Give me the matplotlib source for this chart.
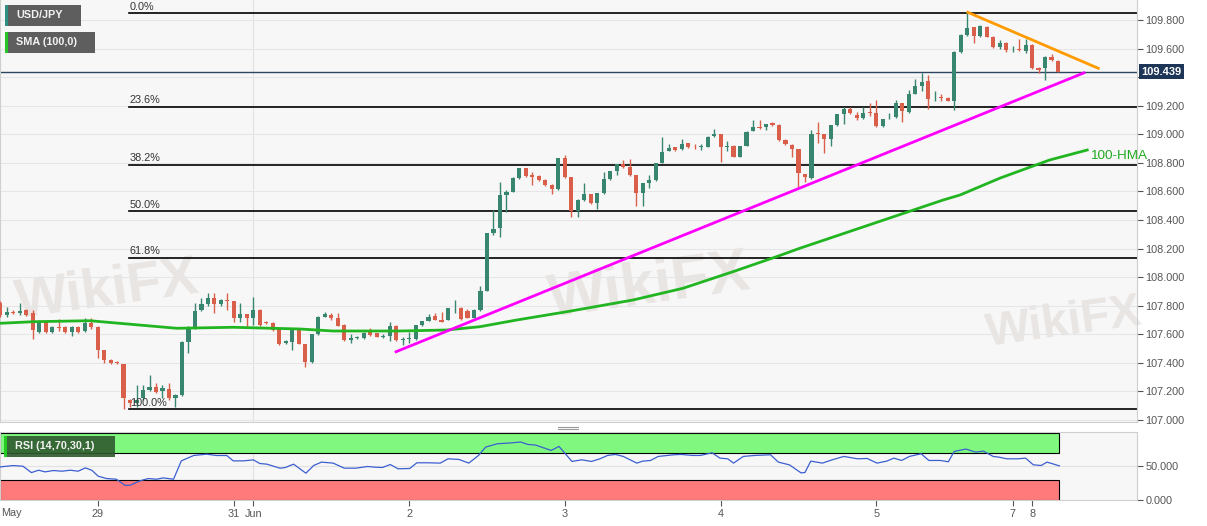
import numpy as np
import matplotlib.pyplot as plt
import matplotlib.transforms as mtransforms
from matplotlib.patches import Rectangle
from matplotlib.lines import Line2D

plt.rcParams['font.family'] = ['Liberation Sans', 'DejaVu Sans']

## USD/JPY hourly bars, index 0 = 29 May 00:00 (weekend gap removed)
first_bar = -15
bar_open = [107.820, 107.735, 107.758, 107.750, 107.770, 107.747, 107.618, 107.688, 107.618, 107.653,
            107.653, 107.618, 107.653, 107.621, 107.681,
            # 29 May
            107.649, 107.490, 107.420, 107.408, 107.392, 107.140, 107.121, 107.152, 107.210, 107.233,
            107.205, 107.215, 107.152, 107.175, 107.548, 107.653, 107.770, 107.810, 107.852, 107.810,
            107.840,
            # 31 May / 1 Jun
            107.830, 107.712, 107.740, 107.712, 107.770, 107.688, 107.681, 107.635, 107.537, 107.548,
            107.630, 107.532, 107.408, 107.600, 107.723, 107.735, 107.712, 107.665, 107.560, 107.572,
            107.576, 107.618, 107.607, 107.583, 107.590, 107.658, 107.562,
            # 2 Jun
            107.566, 107.565, 107.665, 107.693, 107.728, 107.700, 107.700, 107.782, 107.786, 107.760,
            107.716, 107.770, 107.905, 108.307, 108.342, 108.575, 108.598, 108.692, 108.762, 108.715,
            108.708, 108.680, 108.645, 108.617,
            # 3 Jun
            108.832, 108.699, 108.463, 108.540, 108.580, 108.517, 108.587, 108.685, 108.743, 108.790,
            108.769, 108.715, 108.587, 108.657, 108.680, 108.801, 108.883, 108.909, 108.895, 108.937,
            108.913, 108.909, 108.913, 108.988,
            # 4 Jun
            109.000, 108.909, 108.918, 108.843, 108.918, 109.025, 109.049, 109.049, 109.077, 109.065,
            108.960, 108.925, 108.895, 108.722, 108.692, 109.011, 109.002, 108.967, 109.065, 109.140,
            109.175, 109.135, 109.116, 109.158,
            # 5 Jun
            109.147, 109.058, 109.112, 109.120, 109.217, 109.158, 109.285, 109.338, 109.375, 109.260,
            109.259, 109.252, 109.235, 109.578, 109.695, 109.749, 109.688, 109.753, 109.683, 109.609,
            109.641,
            # 7 / 8 Jun
            109.595, 109.600, 109.585, 109.625, 109.462, 109.462, 109.543, 109.515]

bar_high = [107.835, 107.790, 107.770, 107.820, 107.780, 107.770, 107.700, 107.690, 107.660, 107.710,
            107.660, 107.655, 107.660, 107.712, 107.712,
            107.655, 107.490, 107.425, 107.410, 107.395, 107.150, 107.245, 107.245, 107.315, 107.257,
            107.245, 107.257, 107.180, 107.550, 107.660, 107.817, 107.852, 107.891, 107.891, 107.845,
            107.891,
            107.835, 107.817, 107.745, 107.858, 107.775, 107.690, 107.685, 107.640, 107.560, 107.635,
            107.635, 107.535, 107.605, 107.725, 107.758, 107.747, 107.747, 107.670, 107.600, 107.585,
            107.615, 107.642, 107.610, 107.600, 107.688, 107.665, 107.580,
            107.618, 107.668, 107.695, 107.740, 107.747, 107.758, 107.785, 107.840, 107.790, 107.775,
            107.775, 107.940, 108.310, 108.470, 108.668, 108.610, 108.700, 108.765, 108.765, 108.738,
            108.712, 108.685, 108.650, 108.835,
            108.855, 108.703, 108.545, 108.661, 108.585, 108.590, 108.738, 108.745, 108.795, 108.820,
            108.825, 108.718, 108.660, 108.715, 108.800, 108.983, 108.932, 108.912, 108.965, 108.940,
            108.930, 108.932, 108.985, 109.035,
            109.003, 108.950, 108.922, 108.920, 109.020, 109.100, 109.100, 109.070, 109.085, 109.070,
            108.965, 108.930, 108.900, 108.725, 109.030, 109.088, 109.005, 109.068, 109.142, 109.193,
            109.193, 109.158, 109.193, 109.216,
            109.240, 109.108, 109.147, 109.240, 109.222, 109.310, 109.385, 109.427, 109.415, 109.300,
            109.285, 109.260, 109.580, 109.700, 109.854, 109.752, 109.762, 109.758, 109.688, 109.660,
            109.645,
            109.615, 109.665, 109.665, 109.630, 109.470, 109.545, 109.560, 109.520]

bar_low = [107.720, 107.720, 107.740, 107.735, 107.730, 107.570, 107.610, 107.610, 107.610, 107.620,
           107.610, 107.590, 107.610, 107.615, 107.640,
           107.432, 107.400, 107.395, 107.390, 107.080, 107.093, 107.090, 107.140, 107.200, 107.190,
           107.152, 107.140, 107.093, 107.170, 107.467, 107.640, 107.760, 107.800, 107.750, 107.800,
           107.770,
           107.688, 107.688, 107.642, 107.665, 107.660, 107.670, 107.625, 107.525, 107.530, 107.490,
           107.530, 107.373, 107.400, 107.595, 107.720, 107.700, 107.655, 107.555, 107.537, 107.570,
           107.570, 107.590, 107.580, 107.575, 107.555, 107.555, 107.525,
           107.537, 107.560, 107.660, 107.690, 107.698, 107.685, 107.698, 107.750, 107.700, 107.712,
           107.712, 107.765, 107.900, 108.295, 108.283, 108.458, 108.595, 108.690, 108.700, 108.645,
           108.675, 108.640, 108.582, 108.612,
           108.695, 108.423, 108.423, 108.535, 108.512, 108.475, 108.585, 108.680, 108.715, 108.765,
           108.710, 108.498, 108.498, 108.625, 108.675, 108.798, 108.880, 108.885, 108.890, 108.905,
           108.895, 108.890, 108.910, 108.980,
           108.808, 108.880, 108.840, 108.838, 108.915, 109.020, 109.040, 109.030, 109.060, 108.955,
           108.925, 108.843, 108.633, 108.668, 108.688, 108.937, 108.867, 108.918, 109.060, 109.075,
           109.140, 109.100, 109.110, 109.130,
           109.053, 109.053, 109.105, 109.115, 109.088, 109.150, 109.280, 109.300, 109.175, 109.230,
           109.230, 109.230, 109.170, 109.570, 109.690, 109.637, 109.680, 109.680, 109.605, 109.600,
           109.578,
           109.575, 109.585, 109.572, 109.455, 109.427, 109.380, 109.515, 109.435]

bar_close = [107.735, 107.758, 107.750, 107.760, 107.735, 107.630, 107.677, 107.618, 107.653, 107.642,
             107.618, 107.649, 107.618, 107.681, 107.649,
             107.490, 107.420, 107.401, 107.397, 107.152, 107.121, 107.140, 107.210, 107.233, 107.198,
             107.222, 107.152, 107.175, 107.548, 107.653, 107.765, 107.810, 107.852, 107.810, 107.840,
             107.830,
             107.712, 107.740, 107.712, 107.770, 107.665, 107.677, 107.630, 107.532, 107.553, 107.630,
             107.532, 107.408, 107.600, 107.723, 107.740, 107.712, 107.660, 107.560, 107.572, 107.583,
             107.611, 107.595, 107.583, 107.590, 107.655, 107.560, 107.566,
             107.575, 107.665, 107.693, 107.723, 107.700, 107.688, 107.782, 107.786, 107.705, 107.716,
             107.770, 107.905, 108.307, 108.339, 108.575, 108.598, 108.692, 108.762, 108.708, 108.703,
             108.680, 108.645, 108.617, 108.832,
             108.699, 108.463, 108.540, 108.580, 108.517, 108.587, 108.685, 108.743, 108.790, 108.769,
             108.715, 108.587, 108.657, 108.680, 108.797, 108.878, 108.902, 108.890, 108.932, 108.913,
             108.909, 108.918, 108.983, 109.002,
             108.909, 108.918, 108.843, 108.918, 109.018, 109.049, 109.042, 109.070, 109.065, 108.960,
             108.932, 108.895, 108.727, 108.699, 109.002, 109.002, 108.967, 109.065, 109.140, 109.175,
             109.147, 109.116, 109.151, 109.151,
             109.058, 109.105, 109.116, 109.217, 109.160, 109.285, 109.335, 109.368, 109.245, 109.263,
             109.252, 109.235, 109.578, 109.695, 109.742, 109.688, 109.758, 109.683, 109.609, 109.641,
             109.590,
             109.596, 109.590, 109.625, 109.462, 109.450, 109.543, 109.520, 109.439]

last_price = 109.439

## Fibonacci retracement (low 29 May -> high 5 Jun)
fib_low, fib_high = 107.075, 109.847
fib_levels = [0.0, 23.6, 38.2, 50.0, 61.8, 100.0]
fib_start = 4.85

## 100-HMA
hma_x = [-15.0, -9.9, -1.2, 12.2, 20.9, 31.2, 36.3, 46.6, 53.8, 58.9, 64.6, 72.3, 82.5, 90.2,
         97.9, 104.6, 108.2, 130.3, 132.9, 139.1, 146.7, 152.5]
hma_y = [107.677, 107.688, 107.695, 107.642, 107.649, 107.637, 107.623, 107.623, 107.630, 107.653,
         107.700, 107.758, 107.840, 107.922, 108.038, 108.143, 108.202, 108.540, 108.575,
         108.694, 108.820, 108.890]

## trend lines
support_x, support_y = [46.0, 152.0], [107.478, 109.430]
resist_x, resist_y = [134.1, 154.2], [109.854, 109.462]

## RSI (14)
rsi_x = [-15.0, -13.0, -11.5, -10.2, -9.1, -8.1, -6.8, -5.5, -4.2, -3.0, -1.9, -0.9, 0.1, 1.4,
         2.9, 4.2, 5.0, 6.5, 7.8, 9.1, 10.1, 11.7, 12.9, 14.8, 16.8, 18.3, 19.9, 20.9, 22.5, 24.0,
         25.0, 26.1, 28.1, 28.9, 30.2, 32.1, 33.3, 34.5, 36.3, 38.0, 39.8, 41.6, 42.7, 43.9, 45.1,
         46.3, 48.1, 49.2, 51.0, 52.8, 54.0, 55.7, 57.2, 58.7, 59.8, 61.6, 63.4, 65.2, 66.3, 67.5,
         69.9, 71.1, 73.1, 74.6, 76.1, 77.4, 78.6, 79.8, 81.0, 83.1, 84.0, 85.2, 86.4, 88.8, 89.9,
         91.7, 92.9, 94.7, 95.9, 97.1, 98.0, 99.5, 101.3, 103.7, 104.9, 106.6, 108.4, 109.0, 109.9,
         111.7, 113.2, 115.0, 117.1, 118.6, 120.1, 121.6, 122.7, 123.9, 125.1, 126.9, 128.1, 129.9,
         131.1, 132.0, 133.8, 135.3, 136.5, 138.0, 138.9, 140.1, 141.8, 143.0, 144.2, 145.4, 146.3,
         147.2, 148.2]
rsi_v = [49.4, 51.4, 50.4, 40.8, 44.4, 41.9, 43.9, 42.9, 44.4, 42.9, 47.9, 44.4, 35.3, 31.8,
         30.8, 21.7, 21.7, 28.3, 31.8, 30.8, 32.8, 30.8, 58.5, 66.6, 68.6, 66.6, 66.6, 58.5, 58.5, 60.0,
         54.5, 53.5, 47.4, 48.4, 53.5, 39.9, 51.5, 56.6, 55.1, 47.5, 47.5, 50.0, 49.0, 48.5, 53.0,
         46.5, 47.0, 55.6, 55.6, 55.1, 61.6, 60.6, 55.1, 66.7, 79.3, 84.3, 85.4, 86.9, 83.3, 82.3,
         74.2, 80.3, 57.6, 60.1, 57.6, 61.6, 66.7, 68.2, 65.2, 55.1, 58.1, 59.1, 65.2, 67.7, 68.2,
         66.7, 66.7, 70.7, 62.6, 61.6, 55.1, 65.2, 66.7, 67.7, 56.6, 52.5, 40.4, 40.9, 58.1,
         55.1, 60.1, 65.2, 61.6, 62.1, 55.1, 58.1, 62.6, 59.1, 65.2, 69.2, 59.1, 59.1,
         57.1, 72.7, 76.3, 71.7, 73.2, 65.2, 64.1, 61.6, 61.6, 62.6, 52.5, 51.5, 56.6,
         54.0, 50.9]

tick_pos = [0, 21, 24, 48, 72, 96, 120, 141, 144]
tick_lab = ['29', '31', 'Jun', '2', '3', '4', '5', '7', '8']

green, red = '#38866f', '#d95f4a'
W, H = 1207, 526
x_left, x_right = -15.04, 160.17

fig = plt.figure(figsize=(W / 100, H / 100), dpi=100)
fig.patch.set_facecolor('white')
ax = fig.add_axes([0, 1 - 422 / H, 1137 / W, 422 / H])
ax_rsi = fig.add_axes([0, 1 - 500.3 / H, 1137 / W, 68.6 / H])

for a in (ax, ax_rsi):
    a.set_facecolor('#f7f7f7')
    a.set_xlim(x_left, x_right)
    for s in a.spines.values():
        s.set_color('#cfcfcf')
        s.set_linewidth(0.8)
    a.axvline(24, color='#e2e2e2', lw=0.8, zorder=0)

## main panel
ax.set_ylim(106.986, 109.94)
ax.set_yticks(np.arange(107.0, 109.81, 0.2))
ax.yaxis.tick_right()
# the 109.400 label sits under the last-price box
ax.yaxis.set_major_formatter(plt.FuncFormatter(lambda v, pos: '' if abs(v - 109.4) < 1e-6 else '%.3f' % v))
ax.tick_params(axis='y', labelsize=7.8, colors='#555555', length=4, width=0.8, pad=2)
ax.tick_params(axis='x', bottom=False, labelbottom=False)
ax.grid(axis='y', color='#e6e6e6', lw=0.8, zorder=0)
ax.set_axisbelow(True)
ax.spines['top'].set_visible(False)

# watermarks
wm = dict(color='#dcd6d3', alpha=0.55, fontweight='bold', rotation=8,
          ha='center', va='center', zorder=0.5)
ax.text(1.5, 107.90, 'WikiFX', fontsize=40, **wm)
ax.text(85, 107.93, 'WikiFX', fontsize=44, **wm)
ax.text(149, 107.68, 'WikiFX', fontsize=34, **wm)

idx = np.arange(first_bar, first_bar + len(bar_open))
o, h, l, c = map(np.array, (bar_open, bar_high, bar_low, bar_close))
cols = np.where(c >= o, green, red)
ax.vlines(idx, l, h, colors=cols, lw=1, zorder=3)
body = np.maximum(np.abs(c - o), 0.004)
ax.bar(idx, body, bottom=np.minimum(o, c), width=0.64, color=cols, zorder=4)

# fibonacci
for lvl in fib_levels:
    p = fib_high - lvl / 100 * (fib_high - fib_low)
    ax.plot([fib_start, x_right], [p, p], color='black', lw=1.2, zorder=2)
    ax.text(fib_start + 0.1, p + 0.012, '%.1f%%' % lvl, fontsize=7.8, color='#333333',
            va='bottom', ha='left', zorder=5)

ax.axhline(last_price, color='#2b4562', lw=1, zorder=2.5)
ax.plot(hma_x, hma_y, color='#22b522', lw=2, zorder=5, clip_on=False)
ax.plot(support_x, support_y, color='#ff00ff', lw=2, zorder=5)
ax.plot(resist_x, resist_y, color='#ff9a00', lw=2, zorder=5)
ax.text(152.9, 108.848, '100-HMA', color='#22aa22', fontsize=9.7, va='center', ha='left',
        zorder=6, clip_on=False)

trans = mtransforms.blended_transform_factory(ax.transAxes, ax.transData)
ax.text(1.0035, last_price, '%.3f' % last_price, transform=trans, ha='left', va='center',
        color='white', fontsize=8, fontweight='bold', clip_on=False, zorder=7,
        bbox=dict(boxstyle='square,pad=0.22', fc='#1d3557', ec='none'))

## RSI panel
ax_rsi.set_ylim(-1, 102.5)
ax_rsi.add_patch(Rectangle((x_left, 70), 148.2 - x_left, 30, fc='#80f880', ec='black', lw=0.8, zorder=1))
ax_rsi.add_patch(Rectangle((x_left, -1), 148.2 - x_left, 31, fc='#ff7b7b', ec='black', lw=0.8, zorder=1))
ax_rsi.axhline(50, color='#e2e2e2', lw=0.8, zorder=0.5)
ax_rsi.plot(rsi_x, rsi_v, color='#3b5fd0', lw=0.9, zorder=3)
ax_rsi.yaxis.tick_right()
ax_rsi.set_yticks([0, 50])
ax_rsi.yaxis.set_major_formatter(plt.FormatStrFormatter('%.3f'))
ax_rsi.tick_params(axis='y', labelsize=7.8, colors='#555555', length=4, width=0.8, pad=2)
ax_rsi.set_xticks(tick_pos)
ax_rsi.set_xticklabels(tick_lab)
ax_rsi.tick_params(axis='x', labelsize=7.8, colors='#555555', length=4, width=0.8, pad=2)
fig.text(1 / W, 1 - 513 / H, 'May', fontsize=7.8, color='#555555', ha='left', va='center')


## legend boxes
def box(x0, y0, x1, y1, fc, strip, label, alpha=1.0):
    fig.add_artist(Rectangle((x0 / W, 1 - y1 / H), (x1 - x0) / W, (y1 - y0) / H,
                             transform=fig.transFigure, fc=fc, ec='none', alpha=alpha, zorder=10))
    fig.add_artist(Rectangle((x0 / W, 1 - y1 / H), 2.5 / W, (y1 - y0) / H,
                             transform=fig.transFigure, fc=strip, ec='none', zorder=11))
    fig.text((x0 + 11) / W, 1 - (y0 + y1) / 2 / H, label, color='#f2f2f2', fontsize=7.8,
             fontweight='bold', ha='left', va='center', zorder=12)


box(5, 5, 81, 25.7, '#5e5e5e', '#2f8f83', 'USD/JPY')
box(5, 32, 95, 52.7, '#5e5e5e', '#27c427', 'SMA (100,0)')
box(4, 436, 115, 456.7, '#2e5a2e', '#22cc22', 'RSI (14,70,30,1)', alpha=0.9)

# pane separator handle
for yy in (426.5, 429.0):
    fig.add_artist(Line2D([558 / W, 578 / W], [1 - yy / H, 1 - yy / H], transform=fig.transFigure,
                          color='#9a9a9a', lw=0.8))

plt.savefig('out.png', dpi=100)
